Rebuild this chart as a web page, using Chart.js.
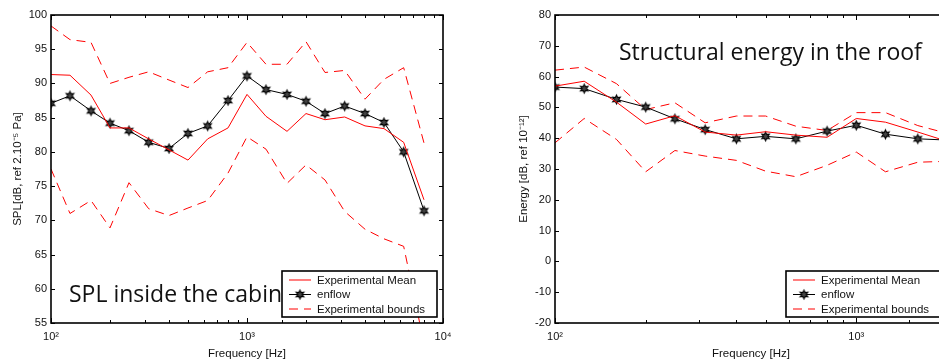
<!DOCTYPE html>
<html>
<head>
<script src="https://cdn.jsdelivr.net/npm/chart.js"></script>
<style>
  html, body { margin: 0; padding: 0; background: #fff; width: 939px; height: 361px; overflow: hidden; }
  .panel { position: absolute; top: 0; }
</style>
</head>
<body>

<div class="panel" style="left:0px"><canvas id="splChart" width="470" height="361"></canvas></div>
<div class="panel" style="left:480px"><canvas id="energyChart" width="480" height="361"></canvas></div>

<script>
// 1/3 octave band centres
var splFreqs = [100, 125, 160, 200, 250, 315, 400, 500, 630, 800, 1000, 1250, 1600, 2000, 2500, 3150, 4000, 5000, 6300, 8000];
var splMean   = [91.3, 91.2, 88.3, 83.5, 83.5, 81.9, 80.3, 78.8, 81.9, 83.5, 88.4, 85.2, 83.0, 85.6, 84.7, 85.1, 83.8, 83.4, 81.4, 73.0];
var splEnflow = [87.1, 88.2, 86.0, 84.2, 83.1, 81.4, 80.5, 82.7, 83.8, 87.5, 91.1, 89.1, 88.4, 87.4, 85.6, 86.7, 85.6, 84.3, 80.0, 71.4];
var splUpper  = [98.4, 96.4, 96.0, 90.0, 90.9, 91.7, 90.5, 89.4, 91.7, 92.3, 96.0, 92.8, 92.8, 96.1, 91.6, 91.9, 87.7, 90.6, 92.3, 81.3];
var splLower  = [77.5, 71.0, 72.9, 68.9, 75.5, 71.7, 70.7, 71.8, 72.9, 76.9, 82.2, 80.4, 75.4, 78.1, 75.9, 71.3, 68.7, 67.3, 66.2, 52.0];

var energyFreqs  = [100, 125, 160, 200, 250, 315, 400, 500, 630, 800, 1000, 1250, 1600, 2000];
var energyMean   = [56.9, 58.5, 51.7, 44.6, 47.3, 42.0, 41.0, 42.1, 41.0, 40.3, 46.4, 45.2, 42.0, 39.0];
var energyEnflow = [56.6, 56.1, 52.6, 50.1, 46.3, 42.8, 39.8, 40.6, 39.8, 42.3, 44.2, 41.3, 39.8, 39.4];
var energyUpper  = [62.1, 63.1, 57.7, 49.3, 51.5, 45.0, 47.2, 47.2, 43.9, 42.5, 48.3, 48.3, 44.1, 41.6];
var energyLower  = [38.5, 46.4, 39.6, 29.1, 36.0, 34.2, 32.8, 29.3, 27.5, 31.2, 35.5, 29.1, 32.2, 32.5];

var decades = [100, 1000, 10000];
var decadeLabels = ['10\u00b2', '10\u00b3', '10\u2074'];

var RED = 'rgb(255,0,0)';
var TICK_FONT = { family: 'Liberation Sans, Arial, sans-serif', size: 11 };
var TITLE_FONT = { family: 'Liberation Sans, Arial, sans-serif', size: 11.5 };

function pts(xs, ys) {
  return xs.map(function (x, i) { return { x: x, y: ys[i] }; });
}

// six pointed star marker, like the matlab hexagram
function makeStar(r) {
  var s = Math.ceil(r * 2 + 4);
  var c = document.createElement('canvas');
  c.width = s; c.height = s;
  var g = c.getContext('2d');
  g.translate(s / 2, s / 2);
  g.beginPath();
  for (var i = 0; i < 12; i++) {
    var a = -Math.PI / 2 + i * Math.PI / 6;
    var rr = (i % 2) ? r * 0.5 : r;
    if (i == 0) g.moveTo(rr * Math.cos(a), rr * Math.sin(a));
    else g.lineTo(rr * Math.cos(a), rr * Math.sin(a));
  }
  g.closePath();
  g.fillStyle = '#444';
  g.fill();
  g.strokeStyle = '#000';
  g.lineWidth = 1.1;
  g.stroke();
  return c;
}
var star = makeStar(4.4);

// box, inward ticks, note text and legend (matlab look)
var matlabFrame = {
  id: 'matlabFrame',
  afterDraw: function (chart, args, opts) {
    var ctx = chart.ctx, a = chart.chartArea;
    var xs = chart.scales.x, ys = chart.scales.y;
    ctx.save();
    ctx.strokeStyle = '#000';
    ctx.lineWidth = 1;
    ctx.beginPath();
    xs.ticks.forEach(function (t) {
      var px = Math.round(xs.getPixelForValue(t.value)) + 0.5;
      var e = Math.log10(t.value);
      var len = Math.abs(e - Math.round(e)) < 1e-9 ? 5 : 3;
      ctx.moveTo(px, a.bottom); ctx.lineTo(px, a.bottom - len);
      ctx.moveTo(px, a.top); ctx.lineTo(px, a.top + len);
    });
    ys.ticks.forEach(function (t) {
      var py = Math.round(ys.getPixelForValue(t.value)) + 0.5;
      ctx.moveTo(a.left, py); ctx.lineTo(a.left + 4, py);
      ctx.moveTo(a.right, py); ctx.lineTo(a.right - 4, py);
    });
    ctx.stroke();

    ctx.lineWidth = 1.6;
    ctx.strokeRect(a.left, a.top, a.right - a.left, a.bottom - a.top);

    // big note text
    ctx.fillStyle = '#111';
    ctx.font = '23px "Open Sans", sans-serif';
    ctx.textBaseline = 'alphabetic';
    ctx.textAlign = 'left';
    ctx.fillText(opts.note, a.left + opts.noteX, a.top + opts.noteY);

    // legend box in the lower right corner
    var w = 155, h = 46;
    var bx = a.right - 6 - w, by = a.bottom - 6 - h;
    ctx.fillStyle = '#fff';
    ctx.fillRect(bx, by, w, h);
    ctx.lineWidth = 1.6;
    ctx.strokeStyle = '#000';
    ctx.strokeRect(bx, by, w, h);
    ctx.font = '11.5px "Liberation Sans", Arial, sans-serif';
    ctx.textBaseline = 'middle';
    var rows = [9, 23.5, 38];
    var n = 0;
    chart.data.datasets.forEach(function (ds) {
      if (ds.hideInLegend) return;
      var ry = by + rows[n++];
      ctx.beginPath();
      ctx.strokeStyle = ds.borderColor;
      ctx.lineWidth = ds.borderWidth;
      ctx.setLineDash(ds.borderDash || []);
      ctx.moveTo(bx + 7, ry); ctx.lineTo(bx + 29, ry);
      ctx.stroke();
      ctx.setLineDash([]);
      if (ds.pointRadius > 0) ctx.drawImage(ds.pointStyle, bx + 18 - star.width / 2, ry - star.height / 2);
      ctx.fillStyle = '#111';
      ctx.fillText(ds.label, bx + 35, ry + 0.5);
    });
    ctx.restore();
  }
};

function makeDatasets(xs, mean, enflow, upper, lower) {
  return [
    { label: 'Experimental Mean', data: pts(xs, mean), borderColor: RED, borderWidth: 1, pointRadius: 0 },
    { label: 'enflow', data: pts(xs, enflow), borderColor: '#000', borderWidth: 1, pointRadius: 5, pointStyle: star },
    { label: 'Experimental bounds', data: pts(xs, upper), borderColor: RED, borderWidth: 1, borderDash: [9, 6], pointRadius: 0 },
    { label: 'Experimental bounds', data: pts(xs, lower), borderColor: RED, borderWidth: 1, borderDash: [9, 6], pointRadius: 0, hideInLegend: true }
  ];
}

function makeChart(id, cfg) {
  var ctx = document.getElementById(id).getContext('2d');
  return new Chart(ctx, {
    type: 'line',
    data: { datasets: makeDatasets(cfg.xs, cfg.mean, cfg.enflow, cfg.upper, cfg.lower) },
    plugins: [matlabFrame],
    options: {
      responsive: false,
      animation: false,
      events: [],
      layout: { padding: { top: 15, right: cfg.padRight, left: 0, bottom: 0 } },
      elements: { line: { tension: 0 } },
      plugins: {
        legend: { display: false },
        tooltip: { enabled: false },
        matlabFrame: { note: cfg.note, noteX: cfg.noteX, noteY: cfg.noteY }
      },
      scales: {
        x: {
          type: 'logarithmic',
          min: 100,
          max: cfg.xmax,
          afterFit: function (s) { s.height = 38; },
          grid: { display: false, drawTicks: false },
          border: { display: false },
          ticks: {
            autoSkip: false, maxRotation: 0, padding: 7, color: '#111', font: TICK_FONT,
            callback: function (v) {
              var i = decades.indexOf(v);
              return i >= 0 ? decadeLabels[i] : '';
            }
          },
          title: { display: true, text: 'Frequency [Hz]', color: '#111', font: TITLE_FONT, padding: { top: 2, bottom: 0 } }
        },
        y: {
          min: cfg.ymin,
          max: cfg.ymax,
          afterFit: function (s) { s.width = cfg.yWidth; },
          grid: { display: false, drawTicks: false },
          border: { display: false },
          ticks: { stepSize: cfg.ystep, padding: 4, color: '#111', font: TICK_FONT },
          title: { display: true, text: cfg.ytitle, color: '#111', font: TITLE_FONT, padding: { top: cfg.ytitlePad, bottom: 0 } }
        }
      }
    }
  });
}

makeChart('splChart', {
  xs: splFreqs, mean: splMean, enflow: splEnflow, upper: splUpper, lower: splLower,
  xmax: 10000, ymin: 55, ymax: 100, ystep: 5, yWidth: 51, padRight: 27,
  ytitle: 'SPL[dB, ref 2.10\u207b\u2075 Pa]', ytitlePad: 11,
  note: 'SPL inside the cabin', noteX: 18, noteY: 287
});

makeChart('energyChart', {
  xs: energyFreqs, mean: energyMean, enflow: energyEnflow, upper: energyUpper, lower: energyLower,
  xmax: 2000, ymin: -20, ymax: 80, ystep: 10, yWidth: 75, padRight: 13,
  ytitle: 'Energy [dB, ref 10\u207b\u00b9\u00b2]', ytitlePad: 37,
  note: 'Structural energy in the roof', noteX: 64, noteY: 45
});
</script>
</body>
</html>
